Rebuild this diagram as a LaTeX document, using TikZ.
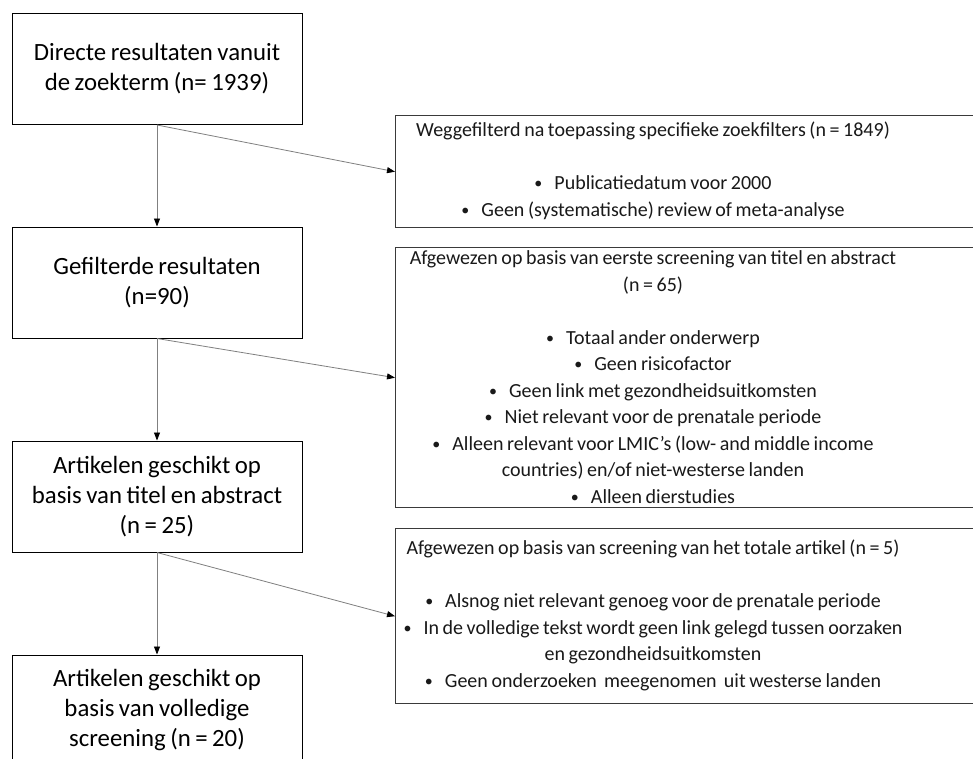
\documentclass[tikz,border=0pt]{standalone}
\usepackage{fontspec}
\setmainfont{Carlito}[WordSpace=0.8]
\usetikzlibrary{arrows.meta}
\definecolor{boxline}{HTML}{3A3A3A}
\definecolor{arrline}{HTML}{808080}
\tikzset{
  lbox/.style={draw=black, line width=1pt, minimum width=290pt, minimum height=111pt,
    inner sep=0pt, align=center,
    font=\fontsize{24.8}{30}\selectfont},
  rbox/.style={draw=boxline, line width=1.4pt, minimum width=600pt, anchor=north west, inner sep=0pt},
  rtext/.style={align=center, inner sep=0pt, text=black!90,
    font=\fontsize{20}{26.5}\selectfont},
  conn/.style={draw=arrline, line width=0.8pt, -{Triangle[length=8pt,width=6pt,fill=black,color=black]}},
}
\newcommand{\bul}{\raisebox{0.05em}{\scalebox{0.8}{\textbullet}}\hspace{0.6em}}
\begin{document}
\begin{tikzpicture}[x=1pt,y=-1pt]
\useasboundingbox (0,0) rectangle (973,758);
\clip (0,0) rectangle (973,758);
\fill[white] (0,0) rectangle (973,758);

\node[lbox] (b1) at (157,69) {Directe resultaten vanuit\\de zoekterm (n= 1939)};
\node[lbox] (b2) at (157,282.5) {Gefilterde resultaten\\(n=90)};
\node[lbox] (b3) at (157,496.5) {Artikelen geschikt op\\basis van titel en abstract\\(n = 25)};
\node[lbox] (b4) at (157,710.5) {Artikelen geschikt op\\basis van volledige\\screening (n = 20)};

\node[rbox, minimum height=112pt] (r1) at (395,115) {};
\node[rbox, minimum height=260pt] (r2) at (395,247) {};
\node[rbox, minimum height=175pt] (r3) at (395,528) {};

\node[rtext] (t1) at (653,171) {Weggefilterd na toepassing specifieke zoekfilters (n = 1849)\\[26.5pt]
\bul Publicatiedatum voor 2000\\
\bul Geen (systematische) review of meta-analyse};

\node[rtext] (t2) at (653,377) {Afgewezen op basis van eerste screening van titel en abstract\\
(n = 65)\\[26.5pt]
\bul Totaal ander onderwerp\\
\bul Geen risicofactor\\
\bul Geen link met gezondheidsuitkomsten\\
\bul Niet relevant voor de prenatale periode\\
\bul Alleen relevant voor LMIC’s (low- and middle income\\
countries) en/of niet-westerse landen\\
\bul Alleen dierstudies};

\node[rtext] (t3) at (653,615.5) {Afgewezen op basis van screening van het totale artikel (n = 5)\\[26.5pt]
\bul Alsnog niet relevant genoeg voor de prenatale periode\\
\bul In de volledige tekst wordt geen link gelegd tussen oorzaken\\
en gezondheidsuitkomsten\\
\bul Geen onderzoeken\ \ meegenomen\ \ uit westerse landen};

\draw[conn] (b1.south) -- (b2.north);
\draw[conn] (b2.south) -- (b3.north);
\draw[conn] (b3.south) -- (b4.north);
\draw[conn] (b1.south) -- (r1.west);
\draw[conn] (b2.south) -- (r2.west);
\draw[conn] (b3.south) -- (r3.west);
\end{tikzpicture}
\end{document}
